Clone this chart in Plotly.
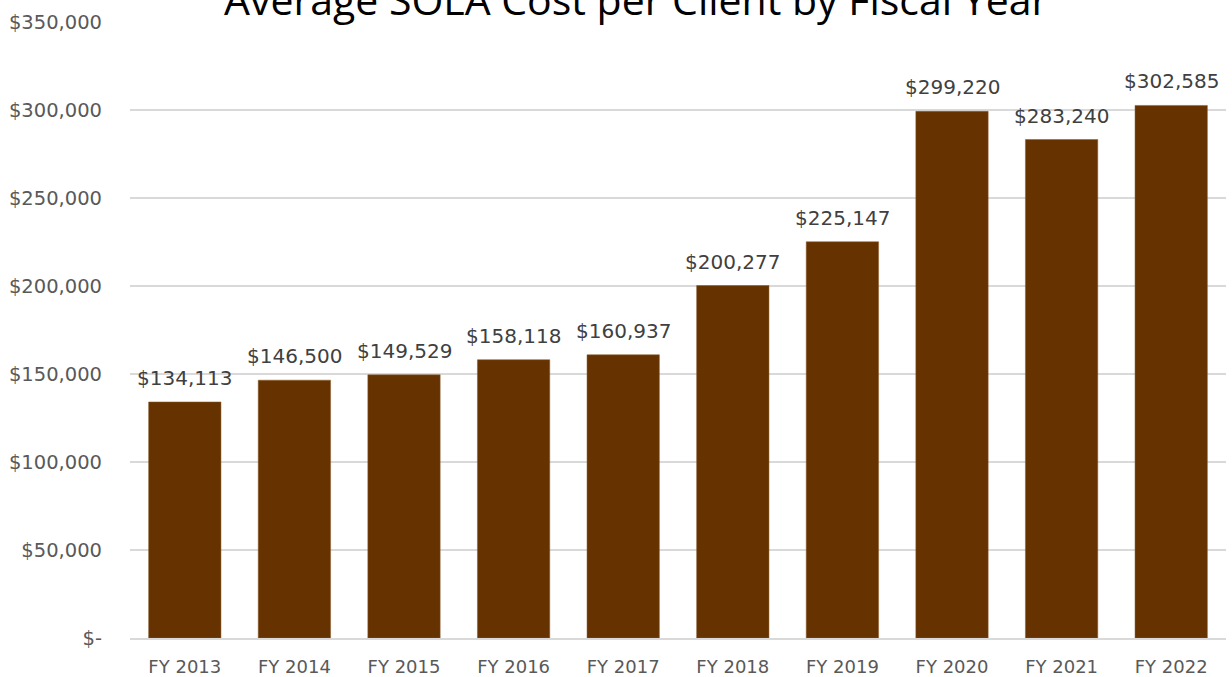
import plotly.graph_objects as go

categories = ["FY 2013", "FY 2014", "FY 2015", "FY 2016", "FY 2017",
              "FY 2018", "FY 2019", "FY 2020", "FY 2021", "FY 2022"]
values = [134113, 146500, 149529, 158118, 160937,
          200277, 225147, 299220, 283240, 302585]
tick_vals = [0, 50000, 100000, 150000, 200000, 250000, 300000, 350000]
tick_text = ["$-", "$50,000", "$100,000", "$150,000", "$200,000",
             "$250,000", "$300,000", "$350,000"]
labels = ["${:,}".format(v) for v in values]

FONT = "DejaVu Sans"

fig = go.Figure(go.Bar(
    x=categories, y=values,
    marker=dict(color="#663300", line=dict(color="#8a5a2b", width=0.5)),
    hoverinfo="skip",
))

annotations = [dict(
    text="Average SOLA Cost per Client by Fiscal Year",
    xref="paper", yref="paper", x=0.462, y=1, xanchor="center", yanchor="middle",
    yshift=23, showarrow=False,
    font=dict(family="Open Sans", size=41, color="#000000"),
)]
for c, v, t in zip(categories, values, labels):
    annotations.append(dict(
        x=c, y=v, xref="x", yref="y", text=t, showarrow=False,
        xanchor="center", yanchor="bottom", yshift=10,
        font=dict(family=FONT, size=20, color="#404040"),
    ))

fig.update_layout(
    width=1232, height=677,
    margin=dict(l=130, r=6, t=22, b=39),
    paper_bgcolor="white", plot_bgcolor="white",
    bargap=0.34, showlegend=False,
    font=dict(family=FONT, color="#595959"),
    annotations=annotations,
)
fig.update_xaxes(showgrid=False, showline=True, linecolor="#d9d9d9", linewidth=1.5,
                 ticks="", ticklabelstandoff=12, automargin=False,
                 tickfont=dict(family=FONT, size=18, color="#595959"))
fig.update_yaxes(range=[0, 350000], tickvals=tick_vals, ticktext=tick_text,
                 showgrid=True, gridcolor="#d9d9d9", gridwidth=1.5, zeroline=False,
                 ticks="", ticklabelstandoff=27, automargin=False,
                 tickfont=dict(family=FONT, size=19.5, color="#595959"))

fig.write_html("out.html", config={"displayModeBar": False},
               post_script="document.body.style.margin='0';window.dispatchEvent(new Event('resize'));")
